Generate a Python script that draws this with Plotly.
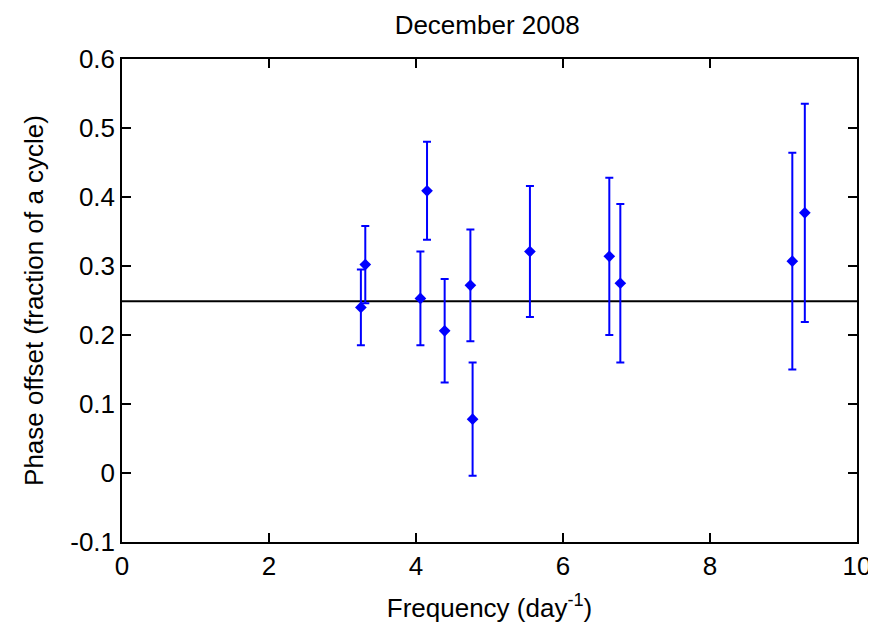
import plotly.graph_objects as go

frequency = [3.25, 3.31, 4.06, 4.15, 4.39, 4.74, 4.77, 5.55, 6.63, 6.78, 9.12, 9.29]
phase = [0.240, 0.302, 0.253, 0.409, 0.206, 0.272, 0.078, 0.321, 0.314, 0.275, 0.307, 0.377]
phase_err = [0.055, 0.056, 0.068, 0.071, 0.075, 0.081, 0.082, 0.095, 0.114, 0.115, 0.157, 0.158]
mean_level = 0.249
x_range = [0, 10]
y_range = [-0.1, 0.6]
x_ticks = [0, 2, 4, 6, 8, 10]
y_ticks = [-0.1, 0, 0.1, 0.2, 0.3, 0.4, 0.5, 0.6]
y_tick_text = ["-0.1", "0", "0.1", "0.2", "0.3", "0.4", "0.5", "0.6"]

FONT = "Liberation Sans, Arial, sans-serif"

fig = go.Figure()
fig.add_trace(go.Scatter(
    x=x_range, y=[mean_level, mean_level], mode="lines",
    line=dict(color="black", width=2), showlegend=False, hoverinfo="skip"))
fig.add_trace(go.Scatter(
    x=frequency, y=phase, mode="markers",
    marker=dict(symbol="diamond", size=9, color="#0000FF"),
    error_y=dict(type="data", array=phase_err, visible=True,
                 color="#0000FF", thickness=2, width=4),
    showlegend=False))

axis_common = dict(
    showline=True, linecolor="black", linewidth=1.5, mirror="ticks",
    ticks="inside", ticklen=9, tickwidth=1.5, tickcolor="black",
    showgrid=False, zeroline=False, automargin=False,
    tickfont=dict(family=FONT, size=26, color="black"),
)

fig.update_layout(
    width=868, height=624,
    margin=dict(l=114, r=19, t=51, b=90),
    paper_bgcolor="white", plot_bgcolor="white",
    title=dict(text="December 2008", x=0.552, xanchor="center", y=0.973, yanchor="middle",
               font=dict(family=FONT, size=26, color="black")),
    xaxis=dict(range=x_range, tickvals=x_ticks,
               title=dict(text="Frequency (day<sup>-1</sup>)", standoff=19,
                          font=dict(family=FONT, size=26, color="black")),
               **axis_common),
    yaxis=dict(range=y_range, tickvals=y_ticks, ticktext=y_tick_text,
               title=dict(text="Phase offset (fraction of a cycle)", standoff=19,
                          font=dict(family=FONT, size=26, color="black")),
               **axis_common),
)

fig.write_html("out.html")
